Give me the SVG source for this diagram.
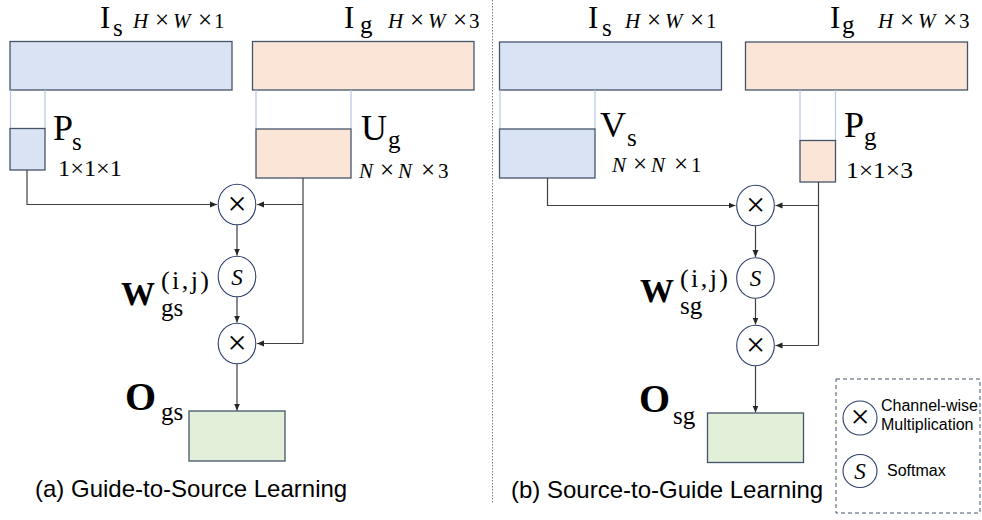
<svg xmlns="http://www.w3.org/2000/svg" width="982" height="520" viewBox="0 0 982 520">
<defs>
<marker id="arr" markerWidth="8" markerHeight="8" refX="7" refY="4" orient="auto" markerUnits="userSpaceOnUse">
<path d="M0,1 L7,4 L0,7 Z" fill="#262626"/>
</marker>
<style>
.bbox{fill:#dae3f3;stroke:#44546a;stroke-width:1.3}
.obox{fill:#fbe5d6;stroke:#44546a;stroke-width:1.3}
.gbox{fill:#e2efd9;stroke:#44546a;stroke-width:1.3}
.lite{stroke:#b4c7e7;stroke-width:1.2;fill:none}
.op{fill:#fff;stroke:#2f3f6e;stroke-width:1.1}
.con{fill:none;stroke:#404040;stroke-width:1.2}
.arr{marker-end:url(#arr)}
.ser{font-family:"Liberation Serif","Times New Roman",serif;fill:#000}
.big{font-size:31px}
.mid{font-size:36px}
.sub{font-size:25px}
.num{font-size:23px}
.dim{font-size:21px}
.x{font-size:25px;font-style:normal}
.it{font-style:italic}
.bold{font-weight:bold}
.sym{font-family:"Liberation Serif","DejaVu Serif",serif;font-size:34px;fill:#000;text-anchor:middle}
.ssym{font-family:"Liberation Serif",serif;font-style:italic;font-size:23px;fill:#000;text-anchor:middle}
.cap{font-family:"Liberation Sans",Arial,sans-serif;font-size:24px;fill:#000}
.leg{font-family:"Liberation Sans",Arial,sans-serif;font-size:16px;fill:#000}
</style>
</defs>

<line x1="492.5" y1="0" x2="492.5" y2="503" stroke="#808080" stroke-width="1" stroke-dasharray="1.5,1.5"/>

<!-- Left panel -->
<g id="a-Is">
<rect class="bbox" x="10" y="41.5" width="222" height="48.5"/>
<text class="ser big" x="100" y="27.5">I</text>
<text class="ser sub" x="113" y="36">s</text>
<text class="ser dim"><tspan class="it" x="133" y="28">H</tspan><tspan class="x" x="155" y="28">×</tspan><tspan class="it" x="173" y="28">W</tspan><tspan class="x" x="198" y="28">×</tspan><tspan x="214" y="28">1</tspan></text>
</g>
<g id="a-Ig">
<rect class="obox" x="252.5" y="41.5" width="221.5" height="48.5"/>
<text class="ser big" x="344" y="27.5">I</text>
<text class="ser sub" x="360" y="33">g</text>
<text class="ser dim"><tspan class="it" x="388" y="28">H</tspan><tspan class="x" x="410" y="28">×</tspan><tspan class="it" x="428" y="28">W</tspan><tspan class="x" x="453" y="28">×</tspan><tspan x="469" y="28">3</tspan></text>
</g>
<g id="a-Ps">
<line class="lite" x1="10.5" y1="90" x2="10.5" y2="128.5"/>
<line class="lite" x1="45" y1="90" x2="45" y2="128.5"/>
<rect class="bbox" x="10" y="128.5" width="35" height="41.5"/>
<text class="ser mid" x="53" y="140">P</text>
<text class="ser sub" x="72" y="150">s</text>
<text class="ser num" x="58" y="176" textLength="64" lengthAdjust="spacingAndGlyphs">1×1×1</text>
</g>
<g id="a-Ug">
<line class="lite" x1="256" y1="90" x2="256" y2="129"/>
<line class="lite" x1="351" y1="90" x2="351" y2="129"/>
<rect class="obox" x="256" y="129" width="95" height="49"/>
<text class="ser mid" x="361" y="140">U</text>
<text class="ser sub" x="388" y="148">g</text>
<text class="ser dim"><tspan class="it" x="359" y="178">N</tspan><tspan class="x" x="380" y="178">×</tspan><tspan class="it" x="398" y="178">N</tspan><tspan class="x" x="421" y="178">×</tspan><tspan x="438" y="178">3</tspan></text>
</g>
<g id="a-mul1">
<ellipse class="op" cx="237" cy="204.5" rx="18.8" ry="20.3"/>
<text class="sym" x="237" y="215">×</text>
</g>
<g id="a-soft">
<ellipse class="op" cx="237" cy="276.5" rx="18.8" ry="20.3"/>
<text class="ssym" x="237" y="284.5">S</text>
<text class="ser bold" x="121" y="305" font-size="34">W</text>
<text class="ser" x="161" y="289" font-size="26" textLength="48" lengthAdjust="spacing">(i,j)</text>
<text class="ser sub" x="161" y="316">gs</text>
</g>
<g id="a-mul2">
<ellipse class="op" cx="237" cy="343.5" rx="18.8" ry="20.3"/>
<text class="sym" x="237" y="354">×</text>
</g>
<g id="a-Ogs">
<rect class="gbox" x="189" y="411" width="96" height="50"/>
<text class="ser bold" x="125" y="410" font-size="40">O</text>
<text class="ser sub" x="161" y="420">gs</text>
</g>
<text class="cap" x="35" y="497">(a) Guide-to-Source Learning</text>

<!-- Right panel -->
<g id="b-Is">
<rect class="bbox" x="499.5" y="42" width="222" height="48"/>
<text class="ser big" x="588" y="27.5">I</text>
<text class="ser sub" x="602" y="36">s</text>
<text class="ser dim"><tspan class="it" x="625" y="28">H</tspan><tspan class="x" x="647" y="28">×</tspan><tspan class="it" x="665" y="28">W</tspan><tspan class="x" x="690" y="28">×</tspan><tspan x="706" y="28">1</tspan></text>
</g>
<g id="b-Ig">
<rect class="obox" x="745.5" y="42" width="222" height="48"/>
<text class="ser big" x="830" y="27.5">I</text>
<text class="ser sub" x="842" y="33">g</text>
<text class="ser dim"><tspan class="it" x="878" y="28">H</tspan><tspan class="x" x="900" y="28">×</tspan><tspan class="it" x="918" y="28">W</tspan><tspan class="x" x="943" y="28">×</tspan><tspan x="959" y="28">3</tspan></text>
</g>
<g id="b-Vs">
<line class="lite" x1="500" y1="90" x2="500" y2="129"/>
<line class="lite" x1="595" y1="90" x2="595" y2="129"/>
<rect class="bbox" x="499.5" y="129" width="95.5" height="49"/>
<text class="ser mid" x="600" y="137">V</text>
<text class="ser sub" x="627" y="146">s</text>
<text class="ser dim"><tspan class="it" x="612" y="172">N</tspan><tspan class="x" x="633" y="172">×</tspan><tspan class="it" x="651" y="172">N</tspan><tspan class="x" x="674" y="172">×</tspan><tspan x="691" y="172">1</tspan></text>
</g>
<g id="b-Pg">
<line class="lite" x1="800" y1="90" x2="800" y2="140.5"/>
<line class="lite" x1="835.5" y1="90" x2="835.5" y2="140.5"/>
<rect class="obox" x="800" y="140.5" width="35.5" height="41.5"/>
<text class="ser mid" x="844" y="137">P</text>
<text class="ser sub" x="864" y="145">g</text>
<text class="ser num" x="846" y="178" textLength="67" lengthAdjust="spacingAndGlyphs">1×1×3</text>
</g>
<g id="b-mul1">
<ellipse class="op" cx="755.5" cy="205.5" rx="18.8" ry="20.3"/>
<text class="sym" x="755.5" y="216">×</text>
</g>
<g id="b-soft">
<ellipse class="op" cx="755.5" cy="278" rx="18.8" ry="20.3"/>
<text class="ssym" x="755.5" y="286">S</text>
<text class="ser bold" x="640" y="302" font-size="34">W</text>
<text class="ser" x="680" y="287" font-size="26" textLength="48" lengthAdjust="spacing">(i,j)</text>
<text class="ser sub" x="680" y="314">sg</text>
</g>
<g id="b-mul2">
<ellipse class="op" cx="755.5" cy="345.5" rx="18.8" ry="20.3"/>
<text class="sym" x="755.5" y="356">×</text>
</g>
<g id="b-Osg">
<rect class="gbox" x="707.5" y="413" width="96" height="49.5"/>
<text class="ser bold" x="639" y="412" font-size="40">O</text>
<text class="ser sub" x="673" y="424">sg</text>
</g>
<text class="cap" x="511" y="498">(b) Source-to-Guide Learning</text>

<!-- Legend -->
<g id="legend">
<rect x="836" y="379" width="144" height="134" fill="none" stroke="#44546a" stroke-width="1" stroke-dasharray="4,3"/>
<ellipse class="op" cx="860" cy="418" rx="17" ry="17"/>
<text class="sym" x="860" y="428" font-size="32">×</text>
<text class="leg" x="881" y="411">Channel-wise</text>
<text class="leg" x="881" y="430">Multiplication</text>
<ellipse class="op" cx="860" cy="471" rx="17" ry="16.5"/>
<text class="ssym" x="860" y="479">S</text>
<text class="leg" x="887" y="476">Softmax</text>
</g>

<!-- Connectors -->
<g id="connectors">
<path class="con arr" d="M27,170 V204.5 H217"/>
<path class="con" d="M303,178 V343.5"/>
<path class="con arr" d="M303,204.5 H257"/>
<path class="con arr" d="M303,343.5 H257"/>
<path class="con arr" d="M237,225 V255.5"/>
<path class="con arr" d="M237,297 V322.5"/>
<path class="con arr" d="M237,364 V410.5"/>
<path class="con arr" d="M547.5,178 V205.5 H735.5"/>
<path class="con" d="M818.5,182 V345.5"/>
<path class="con arr" d="M818.5,205.5 H775.5"/>
<path class="con arr" d="M818.5,345.5 H775.5"/>
<path class="con arr" d="M755.5,226 V257"/>
<path class="con arr" d="M755.5,298.5 V324.5"/>
<path class="con arr" d="M755.5,366 V412.5"/>
</g>
</svg>
